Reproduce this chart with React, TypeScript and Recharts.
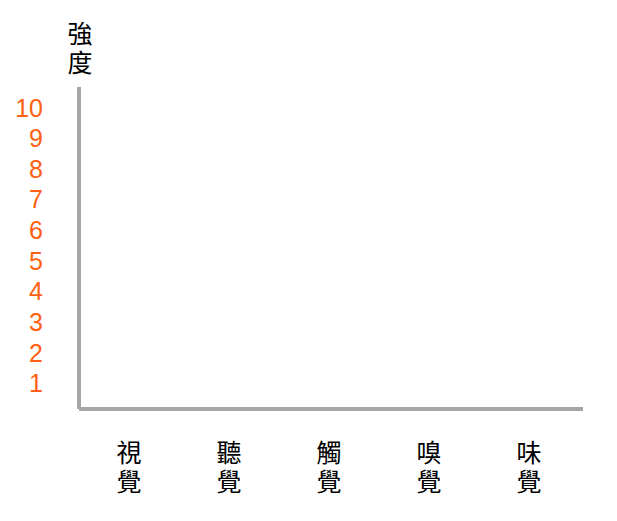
import React from 'react';
import { BarChart, Bar, XAxis, YAxis } from 'recharts';

// Sense categories (two characters, drawn stacked)
const categories = ['視覺', '聽覺', '觸覺', '嗅覺', '味覺'];
// Intensity per sense: the reference chart is a blank template, nothing is plotted
const intensity: (number | null)[] = [null, null, null, null, null];
const yTicks = [1, 2, 3, 4, 5, 6, 7, 8, 9, 10];
const yTitle = '強度';

const data = categories.map((c, i) => ({ sense: c, intensity: intensity[i] }));

const AXIS_GREY = '#a6a6a6';
const ORANGE = '#ff5f12';
const CJK = '"Noto Sans CJK TC", "Noto Sans CJK JP", sans-serif';

// vertical CJK label: x is the column centre, y the top of the first character
function Stacked({ x, y, label, gap }: { x: number; y: number; label: string; gap: number }) {
  return (
    <text
      x={x}
      y={y}
      textAnchor="start"
      fontSize={25}
      fontFamily={CJK}
      fill="#000"
      style={{ writingMode: 'vertical-rl', letterSpacing: gap }}
    >
      {label}
    </text>
  );
}

function SenseTick(props: any) {
  const { x, y, payload } = props;
  return <Stacked x={x} y={y + 23} label={String(payload.value)} gap={4} />;
}

function YTitle(props: any) {
  const vb = props.viewBox || {};
  const cx = (vb.x ?? 0) + (vb.width ?? 0) + 1;
  const top = vb.y ?? 0;
  return <Stacked x={cx} y={top - 66.5} label={yTitle} gap={4.5} />;
}

export default function App() {
  return (
    <div style={{ position: 'absolute', left: 0, top: 0, width: 617, height: 521, background: '#fff' }}>
      <BarChart
        width={617}
        height={521}
        data={data}
        margin={{ top: 87, right: 34, left: 0, bottom: 0 }}
      >
        <XAxis
          dataKey="sense"
          height={112}
          stroke={AXIS_GREY}
          axisLine={{ stroke: AXIS_GREY, strokeWidth: 4 }}
          tickLine={false}
          tick={<SenseTick />}
          interval={0}
          padding={{ left: 0, right: 4 }}
        />
        <YAxis
          type="number"
          width={79}
          domain={[0.16, 10.676]}
          allowDataOverflow
          ticks={yTicks}
          interval={0}
          axisLine={{ stroke: AXIS_GREY, strokeWidth: 4 }}
          tickLine={false}
          tickSize={0}
          tickMargin={36}
          tick={{ fill: ORANGE, fontSize: 25, fontFamily: 'Arial, "Liberation Sans", sans-serif' }}
          label={{ content: <YTitle /> }}
        />
        <Bar dataKey="intensity" fill={ORANGE} isAnimationActive={false} />
      </BarChart>
    </div>
  );
}
